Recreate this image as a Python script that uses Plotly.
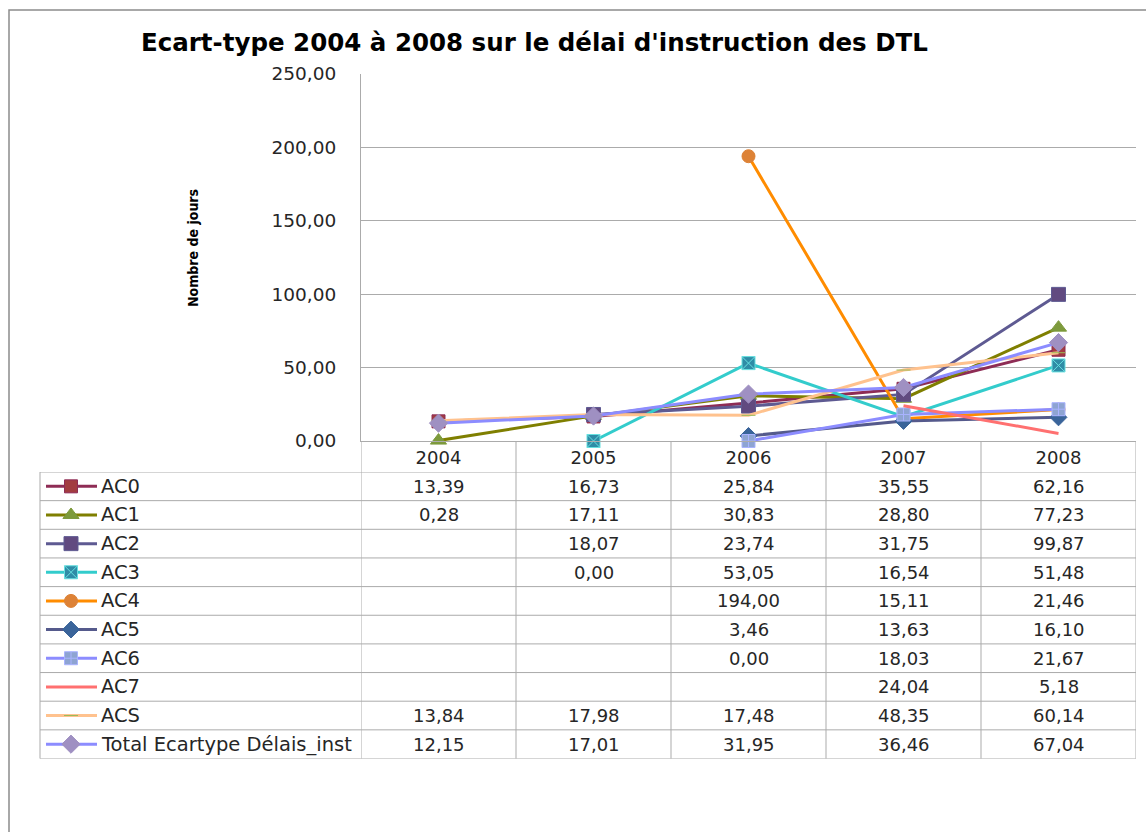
import plotly.graph_objects as go

W, H = 1146, 832

# ---------------- data ----------------
years = ["2004", "2005", "2006", "2007", "2008"]
series_names = ["AC0", "AC1", "AC2", "AC3", "AC4", "AC5", "AC6", "AC7", "ACS",
                "Total Ecartype Délais_inst"]
ac0 = [13.39, 16.73, 25.84, 35.55, 62.16]
ac1 = [0.28, 17.11, 30.83, 28.80, 77.23]
ac2 = [None, 18.07, 23.74, 31.75, 99.87]
ac3 = [None, 0.00, 53.05, 16.54, 51.48]
ac4 = [None, None, 194.00, 15.11, 21.46]
ac5 = [None, None, 3.46, 13.63, 16.10]
ac6 = [None, None, 0.00, 18.03, 21.67]
ac7 = [None, None, None, 24.04, 5.18]
acs = [13.84, 17.98, 17.48, 48.35, 60.14]
total = [12.15, 17.01, 31.95, 36.46, 67.04]
series_values = [ac0, ac1, ac2, ac3, ac4, ac5, ac6, ac7, acs, total]
y_ticks = [0, 50, 100, 150, 200, 250]

title_text = "Ecart-type 2004 à 2008 sur le délai d'instruction des DTL"
y_title = "Nombre de jours"

# ---------------- styles ----------------
line_colors = ["#8E2C55", "#7F7F00", "#5E5A92", "#33CCCC", "#FF8C00",
               "#555A8C", "#8C8CFF", "#FF7070", "#FFC28E", "#8C8CFF"]
marker_styles = [
    dict(symbol="square", size=13, color="#A23C40", line=dict(color="#8E2C55", width=1)),
    dict(symbol="triangle-up", size=14, color="#7D9A3C", line=dict(color="#7D9A3C", width=1)),
    dict(symbol="square", size=14, color="#614A80", line=dict(color="#5E5A92", width=1)),
    dict(symbol="square-x", size=13, color="#2F8CA6", line=dict(color="#66E0E0", width=1)),
    dict(symbol="circle", size=13, color="#DD8236", line=dict(color="#DD8236", width=1)),
    dict(symbol="diamond", size=13, color="#3A649A", line=dict(color="#3A649A", width=1)),
    dict(symbol="square-cross", size=13, color="#8EA4D2", line=dict(color="#A9B3FF", width=1)),
    None,
    dict(symbol="line-ew", size=10, color="#9BBB59", line=dict(color="#9BBB59", width=1)),
    dict(symbol="diamond", size=14, color="#9F90C2", line=dict(color="#9F90C2", width=1)),
]
GRID = "#ABABAB"
TEXT = "#262626"
NUM_FONT = "DejaVu Sans, Verdana, sans-serif"


def px(x):
    return x / W


def py(y):
    return 1 - y / H


fig = go.Figure()

# ---------------- chart lines ----------------
for i, name in enumerate(series_names):
    ms = marker_styles[i]
    fig.add_trace(go.Scatter(
        x=years, y=series_values[i], name=name,
        mode="lines+markers" if ms else "lines",
        line=dict(color=line_colors[i], width=3),
        marker=ms if ms else None,
        connectgaps=False, cliponaxis=False, showlegend=False,
        xaxis="x", yaxis="y",
    ))

# ---------------- legend keys in the data table ----------------
annotations = []
for i, name in enumerate(series_names):
    yc = i + 0.5
    fig.add_trace(go.Scatter(
        x=[6, 57], y=[yc, yc], mode="lines",
        line=dict(color=line_colors[i], width=3),
        showlegend=False, hoverinfo="skip", xaxis="x2", yaxis="y2", cliponaxis=False,
    ))
    ms = marker_styles[i]
    if ms:
        fig.add_trace(go.Scatter(
            x=[31], y=[yc], mode="markers", marker=ms,
            showlegend=False, hoverinfo="skip", xaxis="x2", yaxis="y2", cliponaxis=False,
        ))
    annotations.append(dict(
        x=59, y=yc, xref="x2", yref="y2", text=name, showarrow=False,
        xanchor="left", yanchor="middle",
        font=dict(family=NUM_FONT, size=19.5, color=TEXT),
    ))
    for j, v in enumerate(series_values[i]):
        if v is None:
            continue
        annotations.append(dict(
            x=j, y=yc, xref="x", yref="y2",
            text=f"{v:.2f}".replace(".", ","), showarrow=False,
            xanchor="center", yanchor="middle",
            font=dict(family=NUM_FONT, size=18, color=TEXT),
        ))

# y-axis title
annotations.append(dict(
    x=px(193), y=py(248), xref="paper", yref="paper", text=f"<b>{y_title}</b>",
    textangle=-90, showarrow=False, xanchor="center", yanchor="middle",
    font=dict(family="Liberation Sans Narrow, DejaVu Sans Condensed, sans-serif",
              size=14, color="#000000"),
))
# chart title
annotations.append(dict(
    x=px(534), y=py(42), xref="paper", yref="paper", text=f"<b>{title_text}</b>",
    showarrow=False, xanchor="center", yanchor="middle",
    font=dict(family="DejaVu Sans, sans-serif", size=24.5, color="#000000"),
))

# ---------------- table grid ----------------
shapes = []
n_rows = len(series_names)
for k in range(n_rows + 1):
    shapes.append(dict(type="line", xref="paper", yref="y2",
                       x0=px(40), x1=px(1136), y0=k, y1=k,
                       line=dict(color=GRID, width=1)))
for b in range(len(years) + 1):
    shapes.append(dict(type="line", xref="x", yref="paper",
                       x0=b - 0.5, x1=b - 0.5, y0=py(441), y1=py(758.5),
                       line=dict(color=GRID, width=1)))
shapes.append(dict(type="line", xref="paper", yref="paper",
                   x0=px(40), x1=px(40), y0=py(472), y1=py(758.5),
                   line=dict(color=GRID, width=1)))
# outer chart border
shapes.append(dict(type="rect", xref="paper", yref="paper",
                   x0=px(9), x1=1.05, y0=py(10), y1=-0.05,
                   line=dict(color="#8C8C8C", width=1.5)))

fig.update_layout(
    width=W, height=H,
    margin=dict(l=0, r=0, t=0, b=0, autoexpand=False),
    paper_bgcolor="white", plot_bgcolor="white",
    separators=", ",
    xaxis=dict(
        type="category", categoryorder="array", categoryarray=years,
        domain=[px(361), px(1136)], range=[-0.5, 4.5], anchor="y", automargin=False,
        showgrid=False, zeroline=False, showline=True, linecolor=GRID, linewidth=1,
        ticks="", tickfont=dict(family=NUM_FONT, size=18, color=TEXT),
    ),
    yaxis=dict(
        domain=[py(441), py(74)], range=[0, 250], anchor="x", automargin=False,
        tickvals=y_ticks, tickformat=".2f",
        showgrid=True, gridcolor=GRID, gridwidth=1, zeroline=False,
        showline=True, linecolor=GRID, linewidth=1,
        ticks="outside", ticklen=20, tickcolor="rgba(0,0,0,0)",
        tickfont=dict(family=NUM_FONT, size=18.5, color=TEXT),
    ),
    xaxis2=dict(domain=[px(40), px(361)], range=[0, 321], anchor="y2",
                visible=False, automargin=False),
    yaxis2=dict(domain=[py(758.5), py(472)], range=[n_rows, 0], anchor="x2",
                visible=False, automargin=False),
    shapes=shapes,
    annotations=annotations,
)

fig.write_html("out.html", config={"displayModeBar": False},
               post_script="document.body.style.margin='0px';")
